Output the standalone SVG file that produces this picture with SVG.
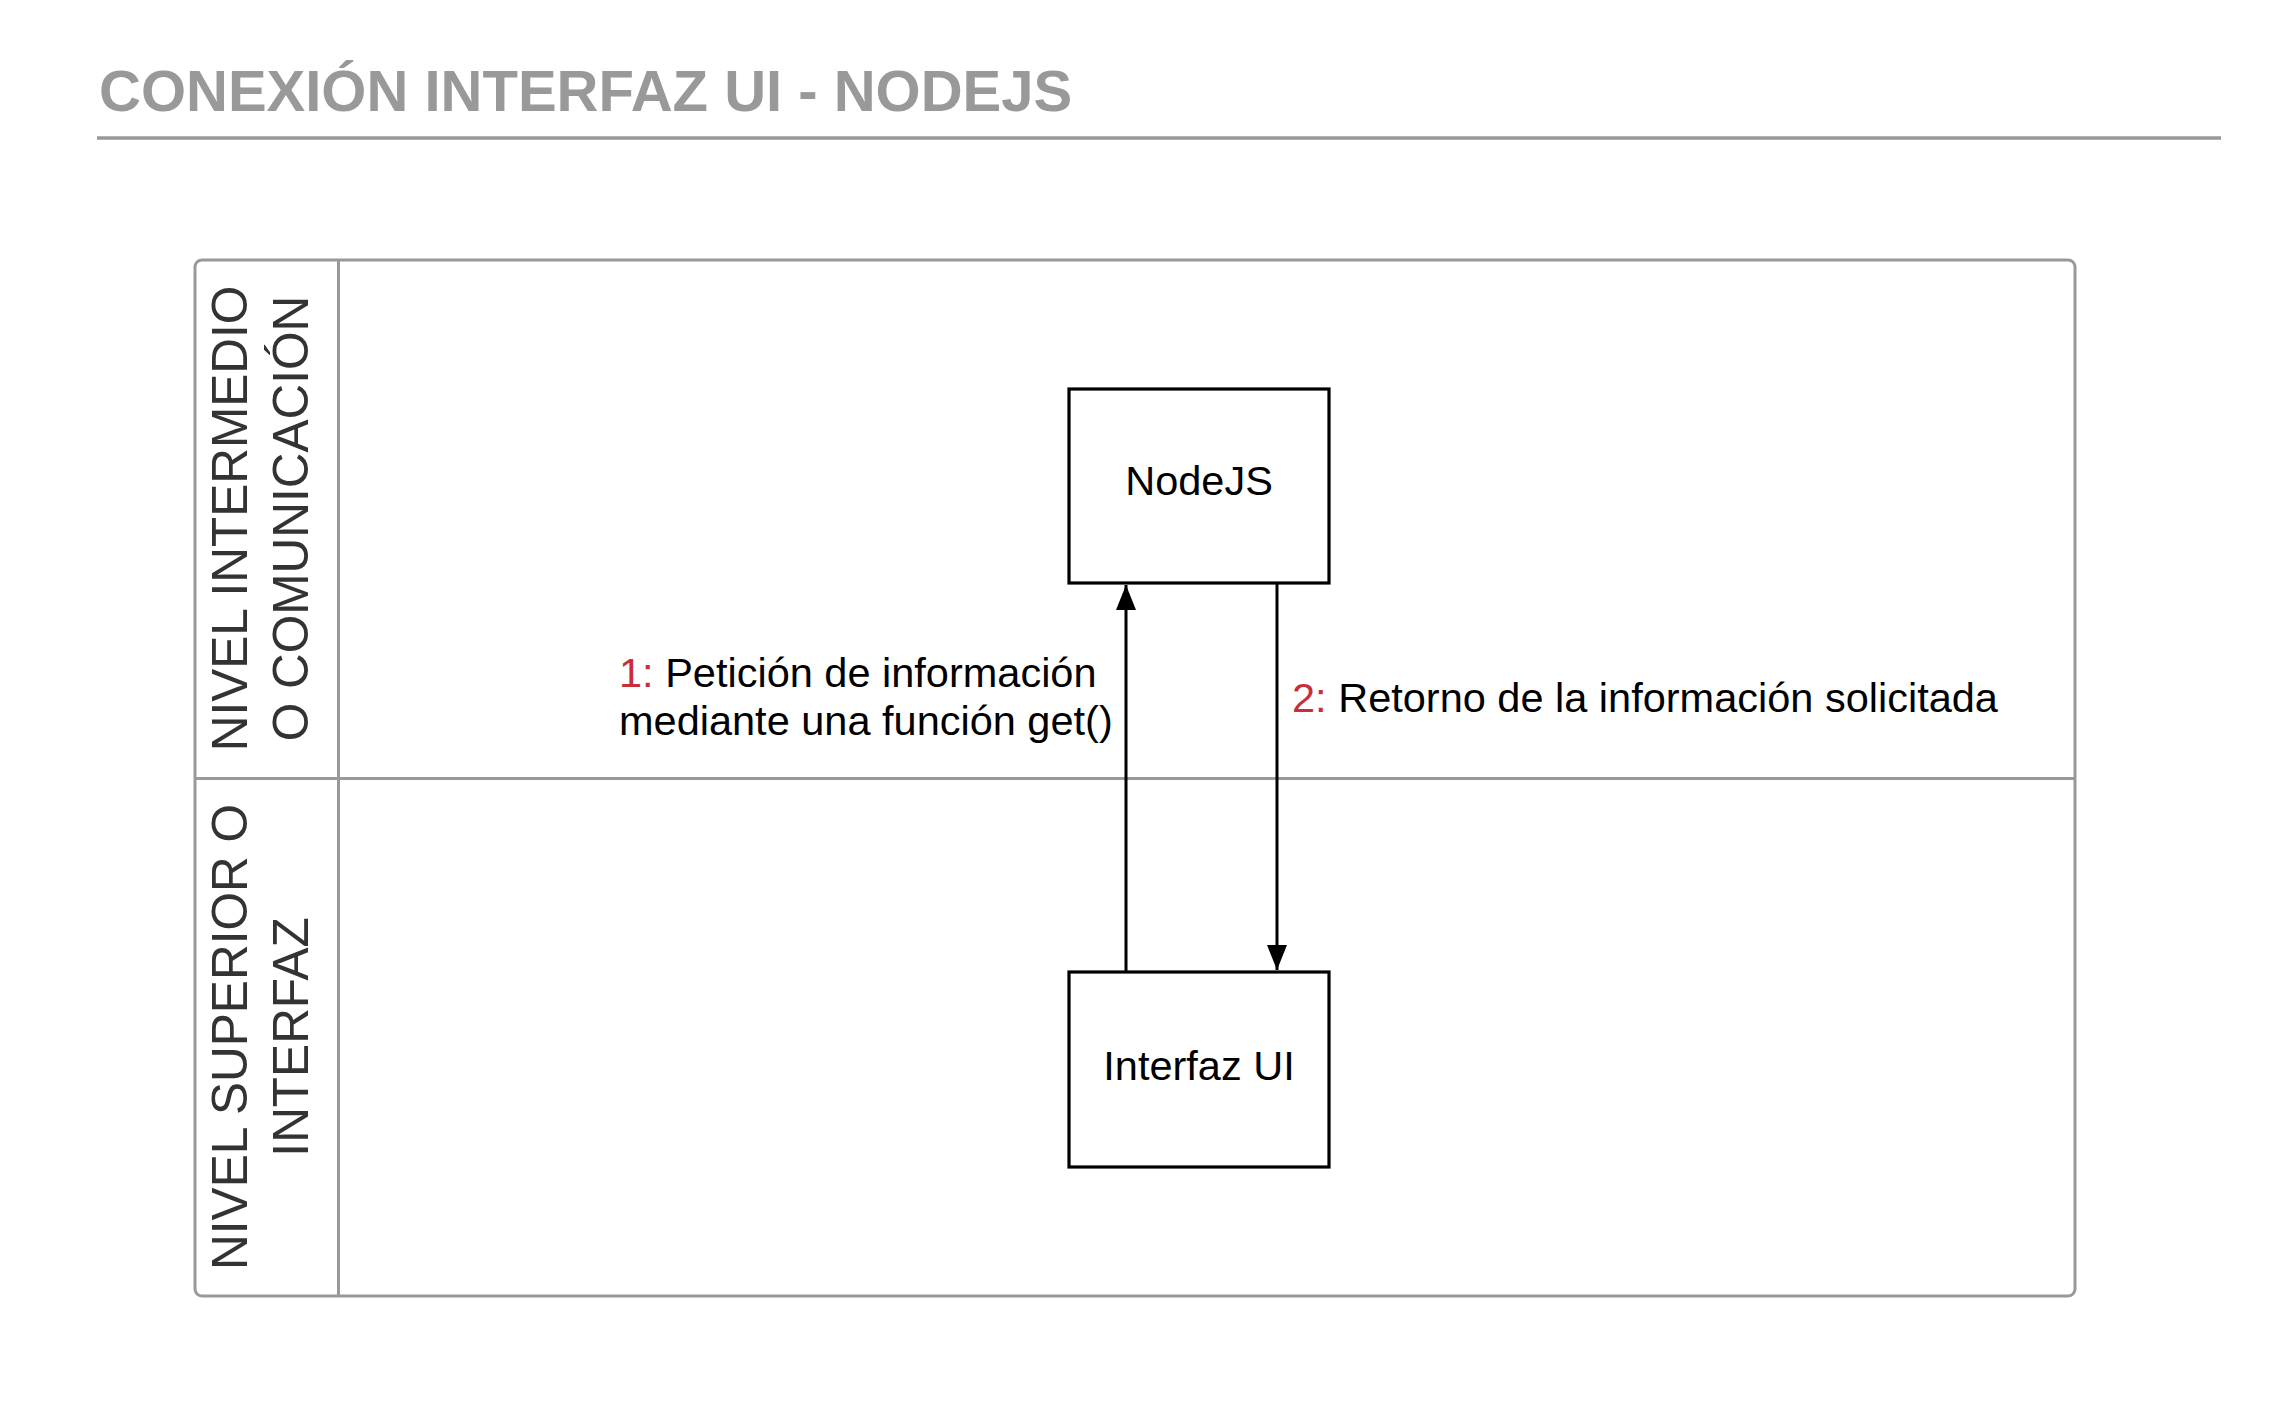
<svg xmlns="http://www.w3.org/2000/svg" width="2290" height="1414" viewBox="0 0 2290 1414">
  <style>
    .title { font-family: "Liberation Sans", Arial, sans-serif; font-weight: bold; font-size: 58px; fill: #999999; }
    .lane { font-family: "Liberation Sans", Arial, sans-serif; font-size: 49.5px; fill: #333333; text-anchor: middle; }
    .txt { font-family: "Liberation Sans", Arial, sans-serif; font-size: 41.5px; fill: #000000; }
    .num { fill: #c92d39; }
    .pool { fill: #ffffff; stroke: #999999; stroke-width: 3; }
    .div { stroke: #999999; stroke-width: 3; fill: none; }
    .node { fill: #ffffff; stroke: #000000; stroke-width: 3.2; }
    .edge { stroke: #000000; stroke-width: 3; fill: none; }
  </style>
  <defs>
    <marker id="arrow" markerUnits="userSpaceOnUse" markerWidth="28" markerHeight="21" refX="25" refY="10" orient="auto">
      <path d="M0,0 L25,10 L0,20 Z" fill="#000000"/>
    </marker>
  </defs>
  <rect width="2290" height="1414" fill="#ffffff"/>

  <g id="title">
    <text class="title" x="99" y="111">CONEXIÓN INTERFAZ UI - NODEJS</text>
    <line x1="97" y1="138" x2="2221" y2="138" stroke="#999999" stroke-width="3.5"/>
  </g>

  <g id="pool">
    <rect class="pool" x="195" y="260" width="1880" height="1036" rx="7" ry="7"/>
    <line class="div" x1="338.5" y1="260" x2="338.5" y2="1296"/>
    <line class="div" x1="195" y1="778.5" x2="2075" y2="778.5"/>
  </g>

  <g id="lane-intermedio">
    <text class="lane" transform="translate(247,518.5) rotate(-90)">NIVEL INTERMEDIO</text>
    <text class="lane" transform="translate(308,518.5) rotate(-90)">O COMUNICACIÓN</text>
  </g>

  <g id="lane-superior">
    <text class="lane" transform="translate(247,1037) rotate(-90)">NIVEL SUPERIOR O</text>
    <text class="lane" transform="translate(308,1037) rotate(-90)">INTERFAZ</text>
  </g>

  <g id="node-nodejs">
    <rect class="node" x="1069" y="389" width="260" height="194"/>
    <text class="txt" x="1199" y="495" text-anchor="middle">NodeJS</text>
  </g>

  <g id="node-interfaz">
    <rect class="node" x="1069" y="972" width="260" height="195"/>
    <text class="txt" x="1199" y="1080" text-anchor="middle">Interfaz UI</text>
  </g>

  <g id="connectors">
    <line class="edge" x1="1126" y1="972" x2="1126" y2="585" marker-end="url(#arrow)"/>
    <line class="edge" x1="1277" y1="583" x2="1277" y2="970" marker-end="url(#arrow)"/>
    <text class="txt" x="619" y="686.5"><tspan class="num">1:</tspan> Petición de información</text>
    <text class="txt" x="619" y="735">mediante una función get()</text>
    <text class="txt" x="1292" y="711.5"><tspan class="num">2:</tspan> Retorno de la información solicitada</text>
  </g>
</svg>
